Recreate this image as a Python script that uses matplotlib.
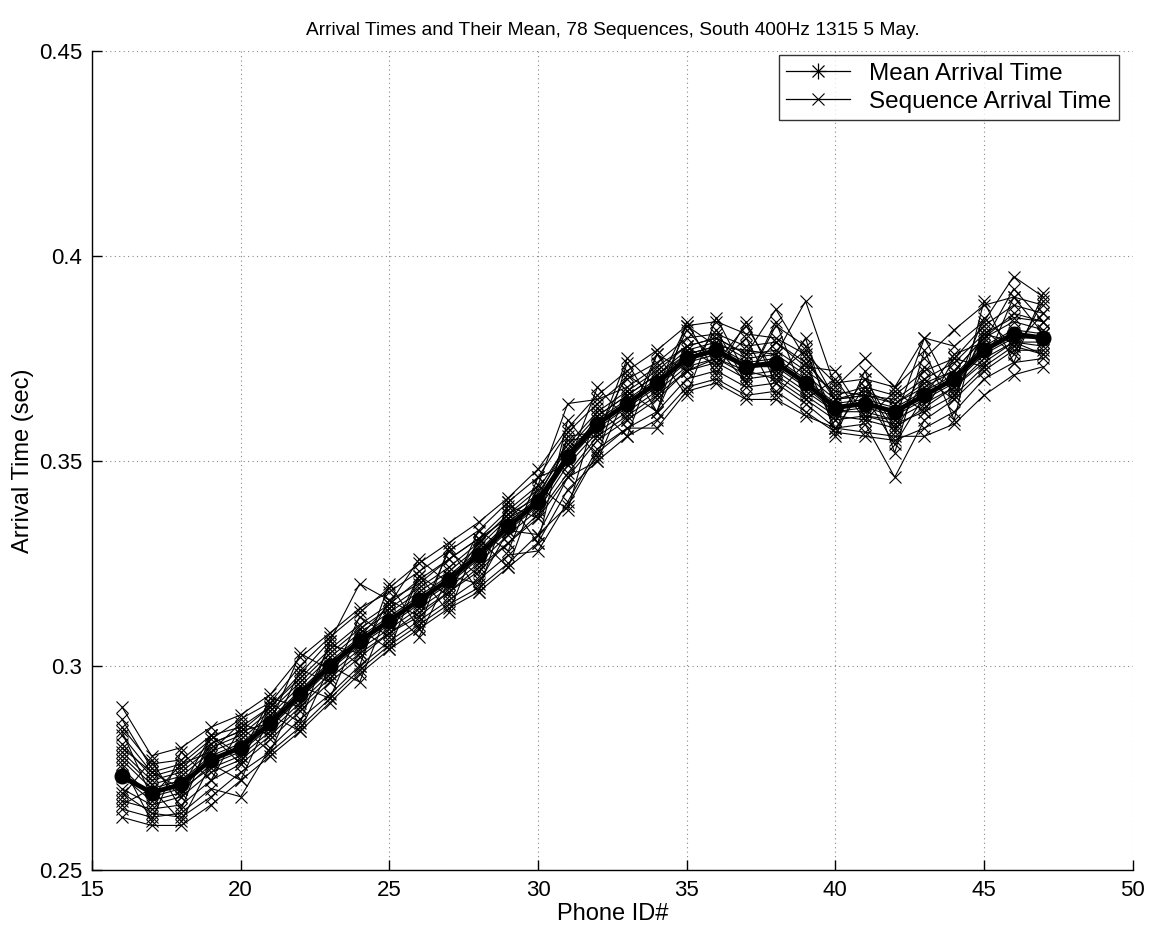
import numpy as np
import matplotlib
matplotlib.use('Agg')
import matplotlib.pyplot as plt
from matplotlib.lines import Line2D

plt.rcParams['font.family'] = ['Liberation Sans', 'DejaVu Sans']

# ── Data (seconds) ───────────────────────────────────────────
phones = list(range(16, 48))

mean_time = [0.273, 0.269, 0.271, 0.277, 0.280, 0.286, 0.293, 0.300, 0.306, 0.311,
             0.316, 0.321, 0.327, 0.334, 0.340, 0.351, 0.359, 0.364, 0.369, 0.375,
             0.377, 0.373, 0.374, 0.369, 0.363, 0.364, 0.362, 0.366, 0.370, 0.377,
             0.381, 0.380]

# a subset of the 78 sequences
seq_01 = [0.290, 0.278, 0.280, 0.285, 0.288, 0.293, 0.302, 0.308, 0.314, 0.318, 0.323, 0.328, 0.333, 0.340, 0.346, 0.357,
          0.364, 0.370, 0.374, 0.380, 0.381, 0.378, 0.379, 0.374, 0.366, 0.368, 0.366, 0.372, 0.375, 0.383, 0.388, 0.386]
seq_02 = [0.285, 0.276, 0.277, 0.283, 0.285, 0.290, 0.298, 0.306, 0.320, 0.316, 0.320, 0.326, 0.331, 0.338, 0.344, 0.364,
          0.365, 0.368, 0.373, 0.378, 0.380, 0.376, 0.377, 0.372, 0.367, 0.366, 0.365, 0.370, 0.374, 0.381, 0.385, 0.384]
seq_03 = [0.263, 0.261, 0.261, 0.266, 0.272, 0.278, 0.284, 0.291, 0.298, 0.304, 0.309, 0.314, 0.318, 0.324, 0.330, 0.343,
          0.350, 0.356, 0.360, 0.368, 0.370, 0.366, 0.367, 0.362, 0.357, 0.356, 0.355, 0.358, 0.362, 0.370, 0.374, 0.375]
seq_04 = [0.265, 0.263, 0.264, 0.270, 0.268, 0.280, 0.287, 0.293, 0.300, 0.306, 0.311, 0.316, 0.321, 0.327, 0.328, 0.340,
          0.353, 0.358, 0.362, 0.370, 0.372, 0.368, 0.369, 0.364, 0.358, 0.359, 0.346, 0.360, 0.365, 0.372, 0.377, 0.377]
seq_05 = [0.267, 0.265, 0.266, 0.272, 0.276, 0.282, 0.289, 0.296, 0.302, 0.308, 0.312, 0.318, 0.324, 0.330, 0.336, 0.346,
          0.355, 0.360, 0.365, 0.372, 0.374, 0.370, 0.371, 0.366, 0.361, 0.360, 0.358, 0.363, 0.368, 0.374, 0.379, 0.378]
seq_06 = [0.279, 0.272, 0.274, 0.280, 0.283, 0.289, 0.296, 0.303, 0.309, 0.314, 0.319, 0.324, 0.330, 0.337, 0.343, 0.354,
          0.362, 0.367, 0.372, 0.378, 0.380, 0.376, 0.387, 0.375, 0.365, 0.367, 0.364, 0.368, 0.372, 0.380, 0.384, 0.382]
seq_07 = [0.281, 0.273, 0.275, 0.281, 0.284, 0.290, 0.297, 0.304, 0.310, 0.315, 0.321, 0.326, 0.331, 0.336, 0.340, 0.350,
          0.361, 0.366, 0.371, 0.376, 0.378, 0.377, 0.376, 0.389, 0.368, 0.375, 0.368, 0.380, 0.378, 0.384, 0.395, 0.390]
seq_08 = [0.277, 0.270, 0.272, 0.278, 0.281, 0.287, 0.294, 0.301, 0.307, 0.312, 0.317, 0.322, 0.328, 0.335, 0.341, 0.352,
          0.360, 0.365, 0.370, 0.376, 0.378, 0.374, 0.375, 0.370, 0.364, 0.365, 0.363, 0.367, 0.371, 0.378, 0.382, 0.381]
seq_09 = [0.275, 0.268, 0.270, 0.275, 0.278, 0.284, 0.291, 0.298, 0.304, 0.309, 0.314, 0.319, 0.325, 0.332, 0.338, 0.349,
          0.357, 0.362, 0.367, 0.373, 0.375, 0.371, 0.372, 0.367, 0.362, 0.362, 0.360, 0.364, 0.368, 0.375, 0.379, 0.379]
seq_10 = [0.270, 0.266, 0.268, 0.274, 0.277, 0.283, 0.290, 0.297, 0.303, 0.308, 0.313, 0.318, 0.323, 0.330, 0.337, 0.347,
          0.356, 0.361, 0.366, 0.372, 0.375, 0.372, 0.370, 0.365, 0.360, 0.361, 0.359, 0.362, 0.366, 0.373, 0.378, 0.376]
seq_11 = [0.283, 0.274, 0.276, 0.282, 0.287, 0.291, 0.300, 0.307, 0.313, 0.319, 0.325, 0.330, 0.335, 0.341, 0.348, 0.358,
          0.366, 0.372, 0.377, 0.383, 0.384, 0.381, 0.380, 0.376, 0.369, 0.370, 0.368, 0.375, 0.382, 0.388, 0.390, 0.388]
seq_12 = [0.269, 0.264, 0.263, 0.268, 0.274, 0.279, 0.285, 0.292, 0.299, 0.305, 0.310, 0.315, 0.319, 0.325, 0.332, 0.339,
          0.352, 0.358, 0.358, 0.367, 0.369, 0.365, 0.365, 0.361, 0.358, 0.357, 0.356, 0.356, 0.359, 0.366, 0.371, 0.373]
seq_13 = [0.278, 0.271, 0.273, 0.279, 0.282, 0.288, 0.295, 0.302, 0.308, 0.313, 0.318, 0.323, 0.329, 0.336, 0.342, 0.353,
          0.361, 0.366, 0.371, 0.377, 0.379, 0.375, 0.376, 0.371, 0.365, 0.366, 0.364, 0.369, 0.372, 0.380, 0.386, 0.384]
seq_14 = [0.273, 0.267, 0.269, 0.276, 0.279, 0.285, 0.292, 0.299, 0.305, 0.310, 0.315, 0.320, 0.326, 0.333, 0.339, 0.350,
          0.358, 0.363, 0.368, 0.374, 0.376, 0.373, 0.373, 0.368, 0.362, 0.363, 0.361, 0.365, 0.369, 0.376, 0.380, 0.380]
seq_15 = [0.280, 0.274, 0.270, 0.283, 0.278, 0.292, 0.290, 0.305, 0.303, 0.316, 0.312, 0.328, 0.322, 0.339, 0.336, 0.356,
          0.357, 0.371, 0.366, 0.382, 0.374, 0.383, 0.371, 0.377, 0.360, 0.370, 0.358, 0.373, 0.367, 0.385, 0.378, 0.386]
seq_16 = [0.266, 0.270, 0.262, 0.276, 0.272, 0.288, 0.284, 0.300, 0.296, 0.314, 0.307, 0.322, 0.320, 0.333, 0.332, 0.346,
          0.350, 0.367, 0.362, 0.378, 0.373, 0.380, 0.366, 0.374, 0.358, 0.368, 0.357, 0.370, 0.365, 0.382, 0.376, 0.389]
seq_17 = [0.284, 0.268, 0.276, 0.279, 0.286, 0.283, 0.299, 0.296, 0.312, 0.307, 0.322, 0.317, 0.333, 0.328, 0.346, 0.349,
          0.368, 0.360, 0.376, 0.372, 0.382, 0.369, 0.384, 0.365, 0.370, 0.360, 0.367, 0.362, 0.375, 0.373, 0.390, 0.381]
seq_18 = [0.268, 0.277, 0.265, 0.283, 0.276, 0.291, 0.286, 0.306, 0.300, 0.320, 0.309, 0.329, 0.318, 0.340, 0.330, 0.360,
          0.351, 0.374, 0.362, 0.384, 0.371, 0.384, 0.369, 0.380, 0.356, 0.372, 0.352, 0.377, 0.360, 0.389, 0.374, 0.391]
seq_19 = [0.276, 0.262, 0.279, 0.272, 0.285, 0.279, 0.295, 0.292, 0.309, 0.304, 0.322, 0.313, 0.331, 0.324, 0.344, 0.338,
          0.363, 0.356, 0.376, 0.366, 0.385, 0.371, 0.379, 0.373, 0.372, 0.361, 0.360, 0.380, 0.366, 0.381, 0.379, 0.376]
seq_20 = [0.287, 0.275, 0.268, 0.281, 0.284, 0.286, 0.303, 0.299, 0.307, 0.315, 0.326, 0.320, 0.330, 0.337, 0.341, 0.355,
          0.356, 0.375, 0.368, 0.383, 0.378, 0.369, 0.383, 0.378, 0.365, 0.366, 0.354, 0.366, 0.376, 0.379, 0.392, 0.384]

sequences = [seq_01, seq_02, seq_03, seq_04, seq_05, seq_06, seq_07, seq_08, seq_09, seq_10,
             seq_11, seq_12, seq_13, seq_14, seq_15, seq_16, seq_17, seq_18, seq_19, seq_20]

# ── Plot ──────────────────────────────────────────────────────
fig = plt.figure(figsize=(11.51, 9.32), dpi=100)
ax = fig.add_axes([0.080, 0.066, 0.904, 0.879])

for seq in sequences:
    ax.plot(phones, seq, color='k', linewidth=0.8, marker='x',
            markersize=9, markeredgewidth=0.8)

ax.plot(phones, mean_time, color='k', linewidth=3.5, marker='o',
        markersize=10.5)

ax.set_xlim(15, 50)
ax.set_ylim(0.25, 0.45)
ax.set_xticks([15, 20, 25, 30, 35, 40, 45, 50])
ax.set_yticks([0.25, 0.3, 0.35, 0.4, 0.45])
ax.set_yticklabels(['0.25', '0.3', '0.35', '0.4', '0.45'])
ax.tick_params(direction='in', length=7, width=1, labelsize=16, pad=7,
               top=False, right=False)
ax.grid(True, color='#888888', linestyle=(0, (1, 3)), linewidth=0.8)
ax.set_axisbelow(True)
for side in ['top', 'right']:
    ax.spines[side].set_visible(False)
for side in ['left', 'bottom']:
    ax.spines[side].set_linewidth(1.0)

ax.set_title('Arrival Times and Their Mean, 78 Sequences, South 400Hz 1315 5 May.',
             fontsize=13.8, pad=12)
ax.set_xlabel('Phone ID#', fontsize=17, labelpad=1)
ax.set_ylabel('Arrival Time (sec)', fontsize=17, labelpad=4)

# legend handles in the MATLAB look: asterisk = '+' over 'x'
mean_handle = (Line2D([], [], color='k', linewidth=0.9, marker='+', markersize=11,
                      markeredgewidth=0.9),
               Line2D([], [], color='k', linewidth=0, marker='x', markersize=8,
                      markeredgewidth=0.9))
seq_handle = Line2D([], [], color='k', linewidth=0.9, marker='x', markersize=8,
                    markeredgewidth=0.8)
leg = ax.legend([mean_handle, seq_handle],
                ['Mean Arrival Time', 'Sequence Arrival Time'],
                loc='upper right', bbox_to_anchor=(0.9865, 0.995), fontsize=17.5,
                frameon=True, fancybox=False, edgecolor='k', handlelength=2.6,
                borderpad=0.3, labelspacing=0.25, handletextpad=0.8,
                borderaxespad=0.0)
leg.get_frame().set_linewidth(1.0)

plt.savefig('out.png', dpi=100)
